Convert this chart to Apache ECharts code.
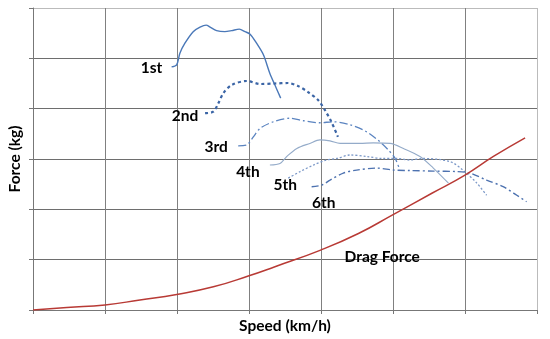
<!DOCTYPE html>
<html><head><meta charset="utf-8">
<script src="https://cdn.jsdelivr.net/npm/echarts@6/dist/echarts.min.js"></script>
<style>html,body{margin:0;padding:0;background:#fff}#c{width:550px;height:339px}</style>
</head><body><div id="c"></div>
<script>
// Speed (km/h), Force (kg) pairs
var gear1 = [[38.5,483],[39.9,487],[40.8,510],[42.2,530],[44.5,553],[46.4,562],[48.1,566],[49.2,562],[51.0,555],[53.3,553],[55.2,555],[57.3,558],[58.9,553],[60.3,548],[62.1,530],[64.0,507],[65.8,470],[67.2,447],[68.8,421]];
var gear2 = [[47.8,391],[50.1,394],[51.5,411],[52.9,431],[55.2,447],[59.4,455],[63.1,449],[67.2,450],[70.8,451],[73.6,445],[76.4,433],[79.2,417],[81.1,397],[83.0,372],[84.7,344]];
var gear3 = [[57.0,326],[59.4,328],[61.2,344],[63.1,361],[66.8,374],[71.4,381],[75.1,376],[79.7,372],[83.4,374],[88.1,368],[92.7,354],[96.4,334],[98.7,318],[100.6,301],[101.9,278]];
var gear4 = [[65.8,288],[68.6,291],[70.5,305],[73.3,321],[76.9,331],[79.7,338],[82.5,336],[85.3,331],[90.8,331],[94.5,332],[99.2,331],[102.9,321],[107.5,305],[111.2,282],[115.4,252]];
var gear5 = [[70.9,262],[74.2,275],[77.9,288],[81.6,298],[84.4,301],[88.1,308],[92.7,305],[97.2,301],[101.0,301],[104.7,298],[108.3,301],[115.8,295],[119.4,278],[123.3,252],[126.0,228]];
var gear6 = [[77.4,245],[80.2,248],[82.5,258],[86.2,272],[89.9,278],[95.5,282],[100.1,278],[104.7,277],[111.2,276],[117.7,275],[121.4,272],[126.0,258],[130.6,245],[134.4,228],[137.1,215]];
var drag = [[0,0],[9.4,5],[20,10],[29.7,20],[39.9,31],[50.1,46],[60,68],[67.2,86],[79.9,119],[90.4,152],[99.9,189],[110.8,232],[120,268],[127.9,305],[136.7,342]];
var gearNames = ['1st','2nd','3rd','4th','5th','6th'];
var dragLabel = 'Drag Force';
var dragLabelAt = [97, 105];
var xTicks = [0,20,40,60,80,100,120,140];
var yTicks = [0,100,200,300,400,500,600];

var gears = [gear1, gear2, gear3, gear4, gear5, gear6];
var styles = [
  {color:'#4a78b8', width:1.4, type:'solid'},
  {color:'#3b65a6', width:2.2, type:[3,3]},
  {color:'#5b84c0', width:1.3, type:[8,3,2,3]},
  {color:'#94abc9', width:1.1, type:'solid'},
  {color:'#7b98c8', width:1.3, type:[2,2]},
  {color:'#4d72b0', width:1.4, type:[7,3,2,3]}
];
var labelOffsets = [[-20,1],[-20,3],[-22,1],[-22,7],[-3,7],[12,16]];

var series = gears.map(function(g,i){
  return {type:'line', name:gearNames[i], data:g, showSymbol:false, smooth:0.3,
    lineStyle:{color:styles[i].color, width:styles[i].width, type:styles[i].type}, z:3};
});
series.push({type:'line', name:dragLabel, data:drag, showSymbol:false, smooth:true,
  lineStyle:{color:'#b83a35', width:1.5}, z:4});
var labelData = gears.map(function(g,i){
  return {value:g[0], name:gearNames[i], label:{offset:labelOffsets[i]}};
});
labelData.push({value:dragLabelAt, name:dragLabel, label:{offset:[0,0]}});
series.push({type:'scatter', data:labelData, symbolSize:1, itemStyle:{color:'rgba(0,0,0,0)'}, z:5, silent:true,
  label:{show:true, position:'inside', formatter:function(p){return p.name;},
    fontFamily:'Lato', fontWeight:'bold', fontSize:15.5, color:'#000', opacity:1}});

var xColors = xTicks.map(function(v,i){return i===xTicks.length-1?'#bbbbbb':'#808080';});
var yColors = yTicks.map(function(v,i){return i===yTicks.length-1?'#bbbbbb':'#6e6e6e';});

var chart = echarts.init(document.getElementById('c'), null, {renderer:'canvas'});
chart.setOption({
  animation:false,
  grid:{left:33, right:13, top:8, bottom:29, containLabel:false, outerBoundsMode:'none'},
  xAxis:{type:'value', min:0, max:140, interval:20,
    name:'Speed (km/h)', nameLocation:'middle', nameGap:8,
    nameTextStyle:{fontFamily:'Lato', fontWeight:'bold', fontSize:15.5, color:'#000', verticalAlign:'top'},
    axisLine:{show:true, lineStyle:{color:'#777'}},
    axisTick:{show:true, length:4, lineStyle:{color:'#777'}},
    axisLabel:{show:false},
    splitLine:{show:true, lineStyle:{color:xColors, width:1}}},
  yAxis:{type:'value', min:0, max:600, interval:100,
    name:'Force (kg)', nameLocation:'middle', nameGap:10, nameRotate:90,
    nameTextStyle:{fontFamily:'Lato', fontWeight:'bold', fontSize:15.5, color:'#000'},
    axisLine:{show:true, lineStyle:{color:'#777'}},
    axisTick:{show:true, length:4, lineStyle:{color:'#777'}},
    axisLabel:{show:false},
    splitLine:{show:true, lineStyle:{color:yColors, width:1}}},
  series:series
});
</script></body></html>
